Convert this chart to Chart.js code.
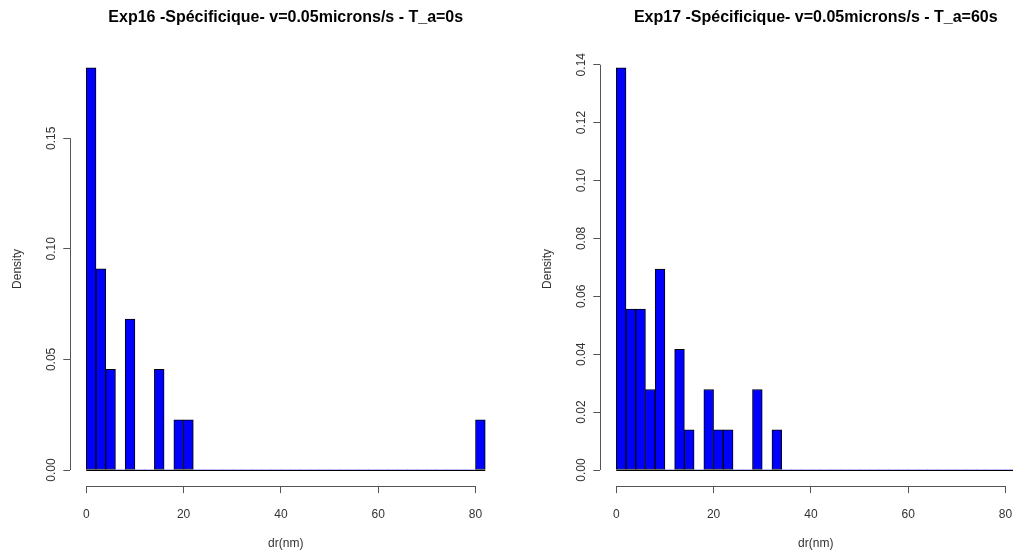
<!DOCTYPE html>
<html><head><meta charset="utf-8">
<script src="https://cdn.jsdelivr.net/npm/chart.js@4.4.0/dist/chart.umd.min.js"></script>
<style>
html,body{margin:0;padding:0;background:#fff;overflow:hidden;}
#wrap{position:relative;width:1013px;height:553px;overflow:hidden;background:#fff;}
.panel{position:absolute;top:0;width:530px;height:553px;}
</style></head><body>
<div id="wrap">
<div class="panel" style="left:0"><canvas id="c1" width="530" height="553"></canvas></div>
<div class="panel" style="left:530px"><canvas id="c2" width="530" height="553"></canvas></div>
</div>
<script>
// ---- data ----
const binStarts = [0,2,4,6,8,10,12,14,16,18,20,22,24,26,28,30,32,34,36,38,40,42,44,46,48,50,52,54,56,58,60,62,64,66,68,70,72,74,76,78,80];
const binWidth = 2;
const leftTitle = "Exp16 -Spécificique- v=0.05microns/s - T_a=0s";
const rightTitle = "Exp17 -Spécificique- v=0.05microns/s - T_a=60s";
const leftDensity = [0.1818,0.0909,0.0455,0,0.0682,0,0,0.0455,0,0.0227,0.0227,0,0,0,0,0,0,0,0,0,0,0,0,0,0,0,0,0,0,0,0,0,0,0,0,0,0,0,0,0,0.0227];
const rightDensity = [0.1389,0.0556,0.0556,0.0278,0.0694,0,0.0417,0.0139,0,0.0278,0.0139,0.0139,0,0,0.0278,0,0.0139,0,0,0,0,0,0,0,0,0,0,0,0,0,0,0,0,0,0,0,0,0,0,0,0];
const xTicks = [0,20,40,60,80];
const leftYTicks = [0,0.05,0.10,0.15];
const rightYTicks = [0,0.02,0.04,0.06,0.08,0.10,0.12,0.14];
const xLabel = "dr(nm)";
const yLabel = "Density";

Chart.defaults.font.family = "'Liberation Sans', Arial, sans-serif";
Chart.defaults.devicePixelRatio = 1;

const axisPlugin = {
  id: 'rAxes',
  afterDatasetsDraw(chart) {
    const {ctx, chartArea, scales: {x, y}} = chart;
    ctx.save();
    ctx.lineWidth = 1;
    // histogram baseline over all bins
    const xEnd = binStarts[binStarts.length - 1] + binWidth;
    const y0 = Math.round(y.getPixelForValue(0)) + 0.5;
    ctx.strokeStyle = '#000';
    ctx.beginPath();
    ctx.moveTo(x.getPixelForValue(binStarts[0]), y0);
    ctx.lineTo(x.getPixelForValue(xEnd), y0);
    ctx.stroke();
    // axis lines spanning first to last tick
    ctx.strokeStyle = '#555';
    const xt = x.ticks, yt = y.ticks;
    const yb = Math.round(chartArea.bottom) + 0.5;
    ctx.beginPath();
    ctx.moveTo(x.getPixelForValue(xt[0].value), yb);
    ctx.lineTo(x.getPixelForValue(xt[xt.length - 1].value), yb);
    ctx.stroke();
    const xl = Math.round(chartArea.left) + 0.5;
    ctx.beginPath();
    ctx.moveTo(xl, y.getPixelForValue(yt[0].value));
    ctx.lineTo(xl, y.getPixelForValue(yt[yt.length - 1].value));
    ctx.stroke();
    ctx.restore();
  }
};

function makeChart(id, title, dens, yTicks, decimals) {
  const pts = binStarts.map((s, i) => ({x: s + binWidth / 2, y: dens[i]}));
  const xEnd = binStarts[binStarts.length - 1] + binWidth;
  const xSpan = xEnd - binStarts[0];
  const yMax = Math.max(...dens);
  new Chart(document.getElementById(id), {
    type: 'bar',
    data: {datasets: [{
      data: pts,
      backgroundColor: '#0000ff',
      borderColor: '#000',
      borderWidth: c => (c.raw && c.raw.y > 0) ? 1 : 0,
      borderSkipped: false,
      barPercentage: 1,
      categoryPercentage: 1
    }]},
    options: {
      responsive: false,
      animation: false,
      events: [],
      layout: {padding: {left: 0, right: 28.8, top: 0, bottom: 0}},
      plugins: {
        legend: {display: false},
        tooltip: {enabled: false},
        title: {display: true, text: title, fullSize: false, color: '#000',
          font: {size: 16, weight: 'bold'}, padding: {top: 8.4, bottom: 24.2}}
      },
      scales: {
        x: {
          type: 'linear', offset: false,
          min: binStarts[0] - 0.04 * xSpan, max: xEnd + 0.04 * xSpan,
          afterBuildTicks: s => { s.ticks = xTicks.map(v => ({value: v})); },
          afterFit: s => { s.height = 66.9; },
          grid: {display: true, drawOnChartArea: false, drawTicks: true, tickLength: 7, color: '#555', offset: false},
          border: {display: false},
          ticks: {color: '#333', font: {size: 12}, padding: 14, maxRotation: 0, autoSkip: false, callback: v => String(v)},
          title: {display: true, text: xLabel, color: '#333', font: {size: 12}, padding: {top: 0, bottom: 2}}
        },
        y: {
          min: -0.04 * yMax, max: 1.04 * yMax,
          afterBuildTicks: s => { s.ticks = yTicks.map(v => ({value: v})); },
          afterFit: s => { s.width = 70.3; },
          grid: {display: true, drawOnChartArea: false, drawTicks: true, tickLength: 7, color: '#555'},
          border: {display: false},
          ticks: {color: '#333', font: {size: 12}, padding: 0, minRotation: 90, maxRotation: 90, crossAlign: 'center', autoSkip: false,
            callback: v => Number(v).toFixed(decimals)},
          title: {display: true, text: yLabel, color: '#333', font: {size: 12}, padding: {top: 10, bottom: 0}}
        }
      }
    },
    plugins: [axisPlugin]
  });
}

makeChart('c1', leftTitle, leftDensity, leftYTicks, 2);
makeChart('c2', rightTitle, rightDensity, rightYTicks, 2);
</script>
</body></html>
